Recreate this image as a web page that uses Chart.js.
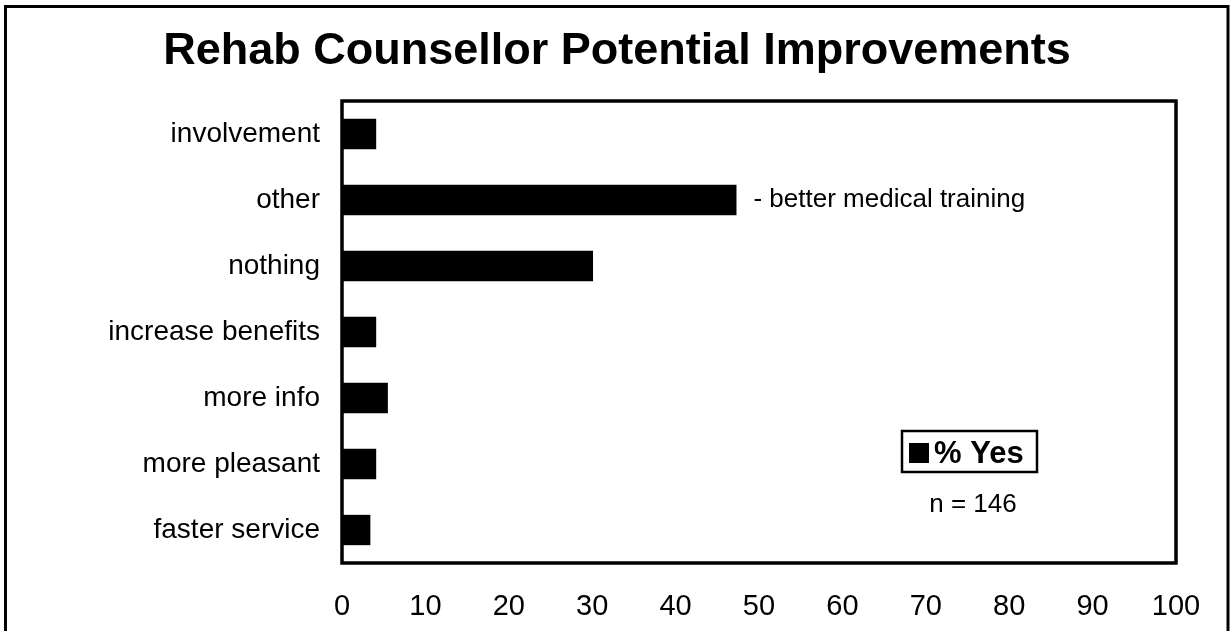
<!DOCTYPE html>
<html>
<head>
<meta charset="utf-8">
<title>Rehab Counsellor Potential Improvements</title>
<script src="https://cdn.jsdelivr.net/npm/chart.js@4/dist/chart.umd.min.js"></script>
<style>
    html, body { margin: 0; padding: 0; background: #fff; }
    #wrap { width: 1230px; height: 631px; position: relative; }
</style>
</head>
<body>
<div id="wrap"><canvas id="improvementsChart" width="1230" height="631"></canvas></div>
<script>
// ----------------------------
// Data
// ----------------------------
const chartTitle = 'Rehab Counsellor Potential Improvements';
const categories = ['involvement', 'other', 'nothing', 'increase benefits', 'more info', 'more pleasant', 'faster service'];
const yesPercent = [4.1, 47.3, 30.1, 4.1, 5.5, 4.1, 3.4];
const xTicks = [0, 10, 20, 30, 40, 50, 60, 70, 80, 90, 100];
const seriesLabel = '% Yes';
const sampleNote = 'n = 146';
const otherNote = '- better medical training';

const FONT = '"Liberation Sans", Arial, Helvetica, sans-serif';

// ----------------------------
// Frame, title, legend box and notes
// ----------------------------
const decorPlugin = {
    id: 'decor',
    afterDraw(chart) {
        const ctx = chart.ctx;
        const area = chart.chartArea;
        ctx.save();

        // outer frame (open at the bottom)
        ctx.strokeStyle = '#000';
        ctx.lineWidth = 3;
        ctx.beginPath();
        ctx.moveTo(5.5, 640);
        ctx.lineTo(5.5, 6.5);
        ctx.lineTo(1228, 6.5);
        ctx.lineTo(1228, 640);
        ctx.stroke();

        // plot box
        ctx.lineWidth = 3.5;
        ctx.strokeRect(area.left, area.top, area.right - area.left, area.bottom - area.top);

        // title
        ctx.fillStyle = '#000';
        ctx.font = 'bold 45px ' + FONT;
        ctx.textAlign = 'center';
        ctx.textBaseline = 'alphabetic';
        ctx.fillText(chartTitle, 617, 64);

        // note next to the "other" bar
        const bars = chart.getDatasetMeta(0).data;
        const otherBar = bars[categories.indexOf('other')];
        ctx.font = '26px ' + FONT;
        ctx.textAlign = 'left';
        ctx.textBaseline = 'middle';
        ctx.fillText(otherNote, otherBar.x + 17, otherBar.y);

        // legend box
        ctx.lineWidth = 2.5;
        ctx.strokeRect(902, 431, 135, 41);
        ctx.fillRect(909, 443, 20, 20);
        ctx.font = 'bold 31px ' + FONT;
        ctx.textBaseline = 'alphabetic';
        ctx.fillText(seriesLabel, 934, 463);

        // sample size
        ctx.font = '26px ' + FONT;
        ctx.textAlign = 'center';
        ctx.fillText(sampleNote, 973, 512);

        ctx.restore();
    }
};

// ----------------------------
// Chart
// ----------------------------
const ctx = document.getElementById('improvementsChart').getContext('2d');
const improvementsChart = new Chart(ctx, {
    type: 'bar',
    data: {
        labels: categories,
        datasets: [{
            label: seriesLabel,
            data: yesPercent,
            backgroundColor: '#000',
            borderWidth: 0,
            barPercentage: 0.46,
            categoryPercentage: 1
        }]
    },
    options: {
        indexAxis: 'y',
        responsive: false,
        animation: false,
        devicePixelRatio: 1,
        layout: { padding: { left: 0, right: 54, top: 101, bottom: 0 } },
        plugins: {
            legend: { display: false },
            title: { display: false },
            tooltip: { enabled: false }
        },
        scales: {
            x: {
                min: 0,
                max: 100,
                afterBuildTicks(scale) {
                    scale.ticks = xTicks.map(v => ({ value: v }));
                },
                afterFit(scale) { scale.height = 68; },
                grid: { display: false, drawTicks: false },
                border: { display: false },
                ticks: {
                    color: '#000',
                    padding: 27,
                    maxRotation: 0,
                    font: { family: FONT, size: 29 }
                }
            },
            y: {
                afterFit(scale) { scale.width = 342; },
                grid: { display: false, drawTicks: false },
                border: { display: false },
                ticks: {
                    color: '#000',
                    padding: 22,
                    font: { family: FONT, size: 28 }
                }
            }
        }
    },
    plugins: [decorPlugin]
});
</script>
</body>
</html>
